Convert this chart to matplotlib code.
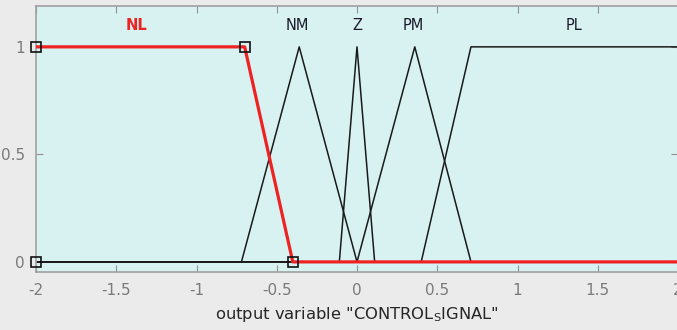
import matplotlib
matplotlib.use("Agg")
import matplotlib.pyplot as plt
import numpy as np

plt.rcParams['axes.unicode_minus'] = False
plt.rcParams['font.family'] = ['DejaVu Sans']

# membership functions (x breakpoints, y values)
mf_names = ["NL", "NM", "Z", "PM", "PL"]
mf_x = [
    [-2.0, -2.0, -0.7, -0.4, 2.0],
    [-2.0, -0.72, -0.36, 0.0, 2.0],
    [-2.0, -0.11, 0.0, 0.11, 2.0],
    [-2.0, 0.0, 0.36, 0.71, 2.0],
    [-2.0, 0.40, 0.71, 2.0],
]
mf_y = [
    [1, 1, 1, 0, 0],
    [0, 0, 1, 0, 0],
    [0, 0, 1, 0, 0],
    [0, 0, 1, 0, 0],
    [0, 0, 1, 1],
]
label_x = [-1.375, -0.37, 0.0, 0.35, 1.35]
selected = 0
handle_x = [-2.0, -0.7, -0.4, -2.0]
handle_y = [1, 1, 0, 0]

xticks = [-2, -1.5, -1, -0.5, 0, 0.5, 1, 1.5, 2]
xticklabels = ["-2", "-1.5", "-1", "-0.5", "0", "0.5", "1", "1.5", "2"]
yticks = [0, 0.5, 1]
yticklabels = ["0", "0.5", "1"]

fig = plt.figure(figsize=(6.77, 3.30), dpi=100, facecolor="#ebebeb")
ax = fig.add_axes([36/677, 1 - 272/330, (678 - 36)/677, (272 - 6)/330])
ax.set_facecolor("#d8f2f2")

for i, (xs, ys) in enumerate(zip(mf_x, mf_y)):
    if i != selected:
        ax.plot(xs, ys, color="#1a1a1a", lw=1.1, zorder=2)
xs, ys = mf_x[selected], mf_y[selected]
ax.plot(xs, ys, color="#ee2222", lw=2.3, zorder=4)
ax.plot(handle_x, handle_y, ls="none", marker="s", ms=7, mfc="none",
        mec="#111111", mew=1.2, zorder=5, clip_on=False)

for i, (name, lx) in enumerate(zip(mf_names, label_x)):
    if i == selected:
        ax.text(lx, 1.10, name, color="#ee2222", fontsize=10.5, fontweight="bold",
                ha="center", va="center")
    else:
        ax.text(lx, 1.10, name, color="#1a1a2a", fontsize=10.5,
                fontweight="medium", ha="center", va="center")

ax.set_xlim(-2, 2)
ax.set_ylim(-0.047, 1.19)
ax.set_xticks(xticks)
ax.set_xticklabels(xticklabels)
ax.set_yticks(yticks)
ax.set_yticklabels(yticklabels)
ax.tick_params(direction="in", length=5, color="#909090", labelcolor="#7a7a7a",
               labelsize=11, top=True, right=True, pad=8)
for s in ax.spines.values():
    s.set_color("#a0a0a0")
    s.set_linewidth(1.2)

ax.set_xlabel('output variable "CONTROL$_\\mathrm{S}$IGNAL"', fontsize=11.8,
              color="#262626", labelpad=5)

fig.savefig("out.png", dpi=100, facecolor=fig.get_facecolor())
